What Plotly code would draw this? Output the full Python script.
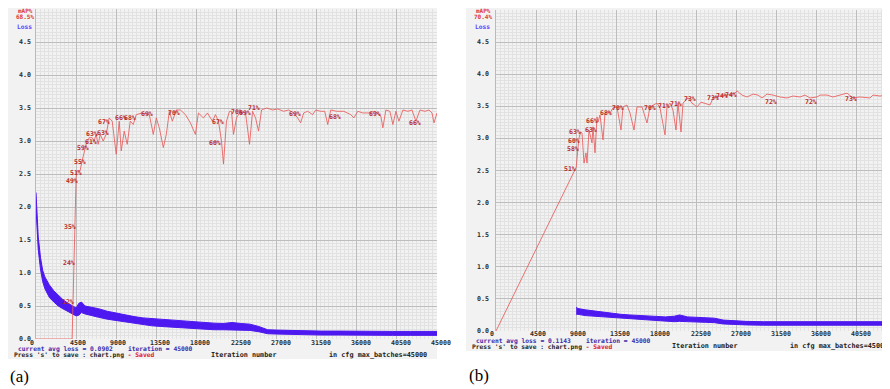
import plotly.graph_objects as go

# The page body keeps an 8 px margin, so the figure fills the remaining 882x381 of the window
# and all reference pixel positions are shifted by that margin.
OFF = 8
W, H = 890 - OFF, 389 - OFF

# ---------------- data: panel (a) ----------------
a_loss_iter = [0, 100, 250, 500, 750, 1000, 1500, 2000, 2500, 3000, 3500, 4000, 4500, 4800, 5100, 5500,
               6000, 6500, 7000, 8000, 9000, 10000, 11000, 12000, 13000, 14000, 15000, 16000, 17000,
               18000, 19000, 20000, 21000, 22000, 23000, 24000, 25000, 25500, 26000, 27000, 28000,
               30000, 32000, 34000, 36000, 38000, 40000, 42000, 44000, 45000]
a_loss_low = [1.98, 1.70, 1.36, 1.06, 0.87, 0.76, 0.63, 0.56, 0.50, 0.46, 0.42, 0.39, 0.35, 0.36, 0.40, 0.38,
              0.36, 0.35, 0.33, 0.30, 0.28, 0.25, 0.23, 0.21, 0.20, 0.19, 0.18, 0.17, 0.16,
              0.15, 0.145, 0.14, 0.14, 0.135, 0.13, 0.13, 0.11, 0.09, 0.08, 0.075, 0.07,
              0.065, 0.06, 0.06, 0.055, 0.055, 0.055, 0.055, 0.055, 0.055]
a_loss_high = [2.22, 1.90, 1.55, 1.24, 1.04, 0.94, 0.82, 0.73, 0.66, 0.60, 0.55, 0.51, 0.47, 0.54, 0.56, 0.50,
               0.49, 0.47, 0.46, 0.42, 0.39, 0.36, 0.34, 0.32, 0.31, 0.29, 0.28, 0.27, 0.26,
               0.25, 0.245, 0.24, 0.235, 0.25, 0.235, 0.225, 0.19, 0.16, 0.14, 0.135, 0.13,
               0.125, 0.12, 0.12, 0.115, 0.115, 0.115, 0.115, 0.115, 0.115]

a_map_iter = [0, 4050, 4163, 4275, 4388, 4500, 4613, 4950, 5175, 5513, 5625, 5963, 6300, 6525, 6750, 6975,
              7200, 7538, 7875, 8213, 8550, 9000, 9338, 9563, 9900, 10238, 10575, 10913, 11250, 11925,
              12713, 13163, 13500, 13838, 14288, 14625, 14963, 15300, 15750, 16200, 16763, 17325, 17888,
              18225, 18788, 19238, 19800, 20138, 20475, 20813, 21038, 21375, 21713, 21938, 22163, 22500,
              22950, 23513, 23963, 24300, 24638, 24975, 25313, 25875, 26550, 27113, 27788, 28350, 28913,
              29363, 29700, 30038, 30488, 31050, 31388, 31950, 32400, 32738, 33075, 33750, 34538, 35325,
              35663, 36113, 36675, 37350, 38025, 38700, 38925, 39263, 39713, 40050, 40388, 40725, 41175,
              41738, 42188, 42638, 43088, 43650, 44100, 44438, 44663, 45000]
a_map_pct = [0, 0, 12, 24, 35, 49, 51, 51, 54, 58, 59, 61, 61, 60, 62, 59,
             62, 60, 62, 67, 66, 56, 66, 57, 63, 59, 66, 65, 68, 68.5,
             68, 62, 67, 64, 58, 62, 69, 66, 69.4, 69.4, 68, 65.5, 62,
             68.5, 67, 68.5, 66, 68, 66, 60, 53, 66, 69, 69, 62, 67,
             69, 68.5, 59, 69, 67, 63, 69.4, 70, 69.4, 69.7, 69, 69.4, 68.5,
             67, 65.5, 68.5, 69, 68, 69.4, 69, 69, 65, 69.4, 69, 69, 68,
             67, 69, 68.5, 68.5, 69, 67.5, 64, 69.4, 69, 65, 69, 66, 69.4,
             69, 69.4, 66, 69.4, 69, 69.4, 68.5, 65.5, 68.5]

a_lbl_iter = [3600, 3600, 3713, 3825, 4050, 4500, 4950, 5288, 6188, 6300, 7538, 7650, 9563, 10575,
              12488, 15525, 20138, 20475, 22500, 23400, 24413, 29025, 33525, 38025, 42525]
a_lbl_pct = [-1, 11.2, 23, 34, 47.9, 50.3, 53.6, 57.9, 59.7, 62.1, 62.4, 65.8, 67, 67,
             68.2, 68.5, 59.4, 65.8, 68.8, 68.5, 70, 68.2, 67.3, 68.2, 65.5]
a_lbl_text = ["0%", "12%", "24%", "35%", "49%", "51%", "55%", "59%", "61%", "63%", "63%", "67%", "66%", "68%",
              "69%", "70%", "60%", "67%", "70%", "69%", "71%", "69%", "68%", "69%", "66%"]

# ---------------- data: panel (b) ----------------
b_loss_iter = [9000, 9200, 10000, 11000, 12000, 13000, 14000, 15000, 16000, 17000, 18000, 19000, 20000,
               20600, 21500, 22500, 23500, 24500, 25500, 26500, 28000, 30000, 32000, 34000, 36000,
               38000, 40000, 42000, 44000, 45000]
b_loss_low = [0.26, 0.26, 0.24, 0.23, 0.22, 0.21, 0.20, 0.19, 0.175, 0.165, 0.155, 0.145, 0.145,
              0.15, 0.14, 0.14, 0.135, 0.13, 0.11, 0.10, 0.095, 0.09, 0.09, 0.09, 0.09,
              0.09, 0.09, 0.09, 0.09, 0.09]
b_loss_high = [0.37, 0.35, 0.33, 0.31, 0.29, 0.28, 0.26, 0.25, 0.24, 0.23, 0.22, 0.22, 0.23,
               0.25, 0.22, 0.21, 0.20, 0.20, 0.17, 0.16, 0.15, 0.145, 0.145, 0.145, 0.145,
               0.145, 0.15, 0.145, 0.145, 0.145]

b_map_iter = [0, 9000, 9100, 9200, 9300, 9500, 9650, 9874, 10098, 10210, 10435, 10771, 10883, 11108,
              11332, 11444, 11669, 12005, 12230, 12454, 12791, 13127, 13576, 14025, 14249, 14698,
              15035, 15484, 15820, 16381, 16942, 17279, 17615, 18064, 18401, 18962, 19186, 19523,
              19859, 20196, 20420, 20757, 20981, 21542, 21991, 22552, 23001, 23450, 24011, 24347,
              25133, 25918, 26816, 27040, 27601, 28162, 28835, 29396, 29845, 30406, 31079, 31865,
              32650, 33323, 34109, 34670, 35231, 36016, 36353, 37138, 37811, 38597, 39382, 40055,
              40841, 41963, 42299, 43085, 43870, 44543, 45000]
b_map_pct = [0, 51, 54, 57, 60, 62, 61.7, 52.3, 55.5, 52.3, 62.6, 58.6, 63.6, 55.5,
             66.7, 65.1, 67.3, 59.5, 67.9, 68.2, 67.9, 69.5, 69.8, 62.6, 69.8, 70.4,
             67.9, 62.6, 69.8, 69.8, 64.8, 69.8, 70.4, 71.0, 69.5, 61.1, 69.8, 71.0,
             68.8, 62.6, 71.0, 62.0, 71.0, 72.6, 71.0, 69.8, 71.3, 71.0, 70.4, 72.6,
             73.2, 73.5, 74.1, 74.8, 73.5, 72.9, 73.8, 73.5, 72.6, 73.8, 73.5, 72.9,
             72.6, 73.2, 72.9, 73.5, 72.6, 72.9, 73.5, 73.5, 72.9, 73.5, 74.1, 72.6,
             72.9, 72.6, 73.5, 73.2, 73.5, 72.9, 72.3]

b_lbl_iter = [8303, 8640, 8752, 8864, 10659, 10771, 12342, 13688, 17279, 18850, 20196, 21767,
              24347, 25357, 26367, 30855, 35343, 39831]
b_lbl_pct = [50.5, 56.7, 59.2, 62.0, 62.6, 65.4, 67.9, 69.5, 69.5, 70.1, 70.7, 72.3,
             72.6, 73.2, 73.5, 71.3, 71.3, 72.3]
b_lbl_text = ["51%", "58%", "60%", "63%", "63%", "66%", "68%", "70%", "70%", "71%", "71%", "73%",
              "73%", "74%", "74%", "72%", "72%", "73%"]

x_ticks = [0, 4500, 9000, 13500, 18000, 22500, 27000, 31500, 36000, 40500, 45000]
y_ticks = [0.0, 0.5, 1.0, 1.5, 2.0, 2.5, 3.0, 3.5, 4.0, 4.5]

final_map = ["68.5%", "70.4%"]
final_loss = ["0.0902", "0.1143"]

# ---------------- styling ----------------
LOSS_C = "rgb(78,24,240)"
MAP_C = "rgba(235,90,90,0.85)"
LBL_C = "#b82a2a"
MONO = "DejaVu Sans Mono"

fig = go.Figure()

def band(xs, lo, hi, xa, ya):
    fig.add_trace(go.Scatter(x=xs, y=lo, mode="lines", line=dict(color=LOSS_C, width=1),
                             xaxis=xa, yaxis=ya, showlegend=False, hoverinfo="skip"))
    fig.add_trace(go.Scatter(x=xs, y=hi, mode="lines", line=dict(color=LOSS_C, width=1),
                             fill="tonexty", fillcolor=LOSS_C,
                             xaxis=xa, yaxis=ya, showlegend=False, hoverinfo="skip"))

band(a_loss_iter, a_loss_low, a_loss_high, "x", "y")
fig.add_trace(go.Scatter(x=a_map_iter, y=a_map_pct, mode="lines", line=dict(color=MAP_C, width=1),
                         xaxis="x", yaxis="y2", showlegend=False))
band(b_loss_iter, b_loss_low, b_loss_high, "x3", "y3")
fig.add_trace(go.Scatter(x=b_map_iter, y=b_map_pct, mode="lines", line=dict(color=MAP_C, width=1),
                         xaxis="x3", yaxis="y4", showlegend=False))

def px(x):
    return (x - OFF) / W

def py(y):
    return 1 - (y - OFF) / H

def xax(dom, rng, anchor):
    return dict(domain=dom, range=rng, anchor=anchor, tickvals=x_ticks, showticklabels=False,
                ticks="", showgrid=True, gridcolor="#bdbdbd", gridwidth=1.3, zeroline=False,
                showline=False, fixedrange=True,
                minor=dict(dtick=450, showgrid=True, gridcolor="#e2e2e2", gridwidth=1))

def yax(dom, anchor):
    return dict(domain=dom, range=[0, 5], anchor=anchor, tickvals=y_ticks, showticklabels=False,
                ticks="", showgrid=True, gridcolor="#bdbdbd", gridwidth=1.3, zeroline=False,
                showline=True, linecolor="#b9b0f0", linewidth=1, fixedrange=True,
                minor=dict(dtick=0.05, showgrid=True, gridcolor="#e2e2e2", gridwidth=1))

ann = []
TICKF = dict(family=MONO, size=6.6, color="#2a2a2a")

# tick labels (positioned through the axes' own scales)
for xr, yr_px, axis_px, yr in (("x", 342.5, 33, "y"), ("x3", 333.5, 491, "y3")):
    for v in x_ticks:
        ann.append(dict(x=v, y=py(yr_px), xref=xr, yref="paper", text="<b>%d</b>" % v, showarrow=False,
                        xanchor="left", yanchor="middle", xshift=-8, font=TICKF))
    for v in y_ticks:
        ann.append(dict(x=px(axis_px), y=v, xref="paper", yref=yr, text="<b>%.1f</b>" % v, showarrow=False,
                        xanchor="right", yanchor="middle", font=TICKF))

for it, p, t in zip(a_lbl_iter, a_lbl_pct, a_lbl_text):
    ann.append(dict(x=it, y=p, xref="x", yref="y2", text="<b>%s</b>" % t, showarrow=False,
                    font=dict(family=MONO, size=6.5, color=LBL_C)))
for it, p, t in zip(b_lbl_iter, b_lbl_pct, b_lbl_text):
    ann.append(dict(x=it, y=p, xref="x3", yref="y4", text="<b>%s</b>" % t, showarrow=False,
                    font=dict(family=MONO, size=6.5, color=LBL_C)))

def txt(x, y, s, color="#111", size=6.8, anchor="left", family=MONO):
    ann.append(dict(x=px(x), y=py(y), xref="paper", yref="paper", text=s, showarrow=False,
                    xanchor=anchor, yanchor="middle", font=dict(family=family, size=size, color=color)))

# panel (a) texts
txt(25, 10.5, "<b>mAP%</b>", "#e03535", 6, "center")
txt(25, 17, "<b>%s</b>" % final_map[0], "#e03535", 6, "center")
txt(24, 26, "<b>Loss</b>", "#5a3cff", 6.3, "center")
txt(16, 348.5, "<b>current avg loss = " + final_loss[0] + "    iteration = 45000</b>", "#3a2aa8", 6.3)
txt(12, 354.5, "<b>Press 's' to save : chart.png <span style='color:#e02020'>- Saved</span></b>", "#222", 6.3)
txt(209, 355, "<b>Iteration number</b>", "#222", 6.8)
txt(327, 355, "<b>in cfg max_batches=45000</b>", "#222", 6.8)
txt(8, 376, "(a)", "#000", 17, "left", "Liberation Serif")

# panel (b) texts
txt(483, 10.5, "<b>mAP%</b>", "#e03535", 6, "center")
txt(483, 17, "<b>%s</b>" % final_map[1], "#e03535", 6, "center")
txt(482, 26, "<b>Loss</b>", "#5a3cff", 6.3, "center")
txt(474, 340.5, "<b>current avg loss = " + final_loss[1] + "    iteration = 45000</b>", "#3a2aa8", 6.3)
txt(470, 346.5, "<b>Press 's' to save : chart.png <span style='color:#e02020'>- Saved</span></b>", "#222", 6.3)
txt(670, 346, "<b>Iteration number</b>", "#222", 6.8)
txt(788, 346, "<b>in cfg max_batches=45000</b>", "#222", 6.8)
txt(467, 375, "(b)", "#000", 17, "left", "Liberation Serif")

shapes = [
    dict(type="rect", xref="paper", yref="paper", x0=0, x1=px(437), y0=py(359), y1=1,
         fillcolor="#f2f2f2", line=dict(width=0), layer="below"),
    dict(type="rect", xref="paper", yref="paper", x0=px(466), x1=1, y0=py(351), y1=1,
         fillcolor="#f2f2f2", line=dict(width=0), layer="below"),
]

fig.update_layout(
    width=W, height=H, margin=dict(l=0, r=0, t=0, b=0),
    paper_bgcolor="white", plot_bgcolor="white", showlegend=False,
    xaxis=xax([px(36), px(437)], [0, 45000], "y"),
    yaxis=yax([py(339), py(9)], "x"),
    yaxis2=dict(overlaying="y", range=[0, 100], visible=False, anchor="x", fixedrange=True),
    xaxis3=xax([px(496), 1.0], [0, 44207], "y3"),
    yaxis3=yax([py(331), py(10)], "x3"),
    yaxis4=dict(overlaying="y3", range=[0, 100], visible=False, anchor="x3", fixedrange=True),
    annotations=ann, shapes=shapes,
)

fig.write_html("out.html")
